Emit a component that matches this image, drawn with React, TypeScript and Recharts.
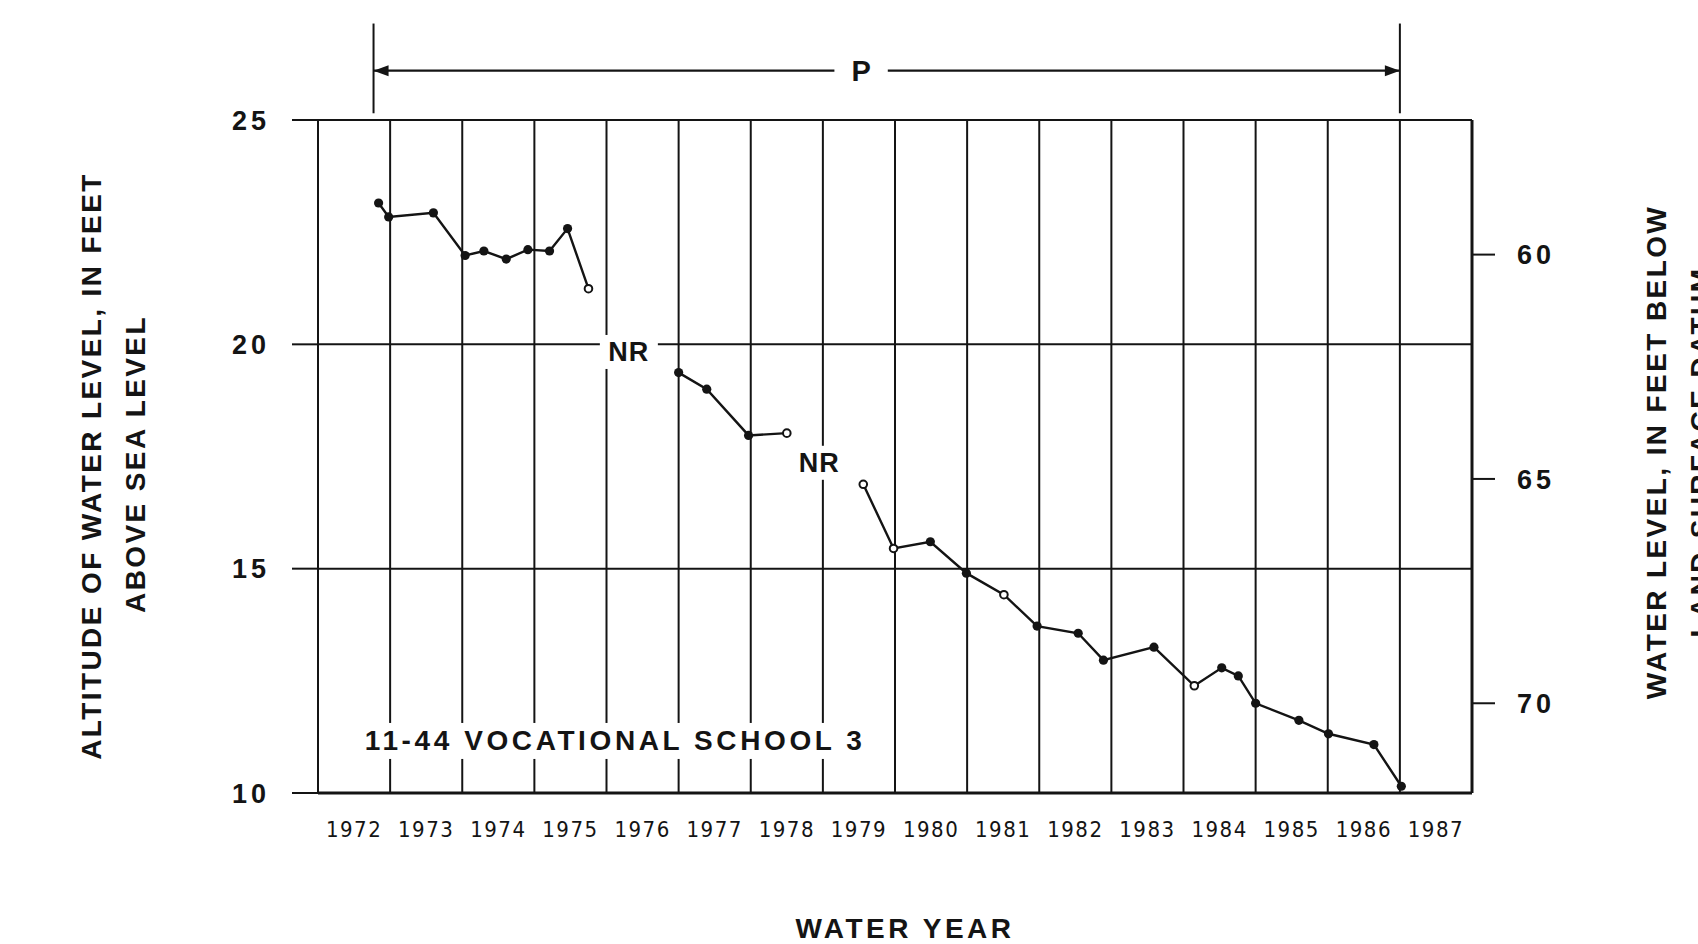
import React from 'react';
import { LineChart, Line, XAxis, YAxis, ReferenceLine, ReferenceDot } from 'recharts';

// water years shown under the axis, each one centred in its own column
const years = [1972, 1973, 1974, 1975, 1976, 1977, 1978, 1979, 1980, 1981, 1982, 1983, 1984, 1985, 1986, 1987];
const altitudeTicks = [10, 15, 20, 25];
const depthTicks = [60, 65, 70];
const altitudeDomain = [10, 25];
const landSurfaceAltitude = 82; // depth below land surface = 82 - altitude

// measured water levels, altitude in feet; open = hollow symbol
const segment1 = [
  { year: 1972.34, level: 23.15 },
  { year: 1972.48, level: 22.84 },
  { year: 1973.1, level: 22.93 },
  { year: 1973.54, level: 21.98 },
  { year: 1973.8, level: 22.08 },
  { year: 1974.11, level: 21.9 },
  { year: 1974.41, level: 22.11 },
  { year: 1974.71, level: 22.08 },
  { year: 1974.96, level: 22.58 },
  { year: 1975.25, level: 21.24, open: true },
];

const segment2 = [
  { year: 1976.5, level: 19.37 },
  { year: 1976.89, level: 19.0 },
  { year: 1977.47, level: 17.97 },
  { year: 1978.0, level: 18.02, open: true },
];

const segment3 = [
  { year: 1979.06, level: 16.88, open: true },
  { year: 1979.48, level: 15.45, open: true },
  { year: 1979.99, level: 15.6 },
  { year: 1980.49, level: 14.9 },
  { year: 1981.01, level: 14.42, open: true },
  { year: 1981.47, level: 13.72 },
  { year: 1982.04, level: 13.56 },
  { year: 1982.39, level: 12.96 },
  { year: 1983.09, level: 13.25 },
  { year: 1983.65, level: 12.39, open: true },
  { year: 1984.03, level: 12.79 },
  { year: 1984.26, level: 12.61 },
  { year: 1984.5, level: 12.0 },
  { year: 1985.1, level: 11.62 },
  { year: 1985.51, level: 11.32 },
  { year: 1986.14, level: 11.08 },
  { year: 1986.52, level: 10.15 },
];

// "no record" gaps
const noRecordNotes = [
  { year: 1975.81, level: 19.83 },
  { year: 1978.45, level: 17.36 },
];

// period-of-record bracket above the graph
const periodStart = 1972.27;
const periodEnd = 1986.5;
const periodLevel = 26.1;
const periodGap = [1978.66, 1979.4];

const gridYears = [...years.map((y) => y - 0.5), years[years.length - 1] + 0.5];
const depthDomain = [landSurfaceAltitude - altitudeDomain[1], landSurfaceAltitude - altitudeDomain[0]];

const INK = '#141414';
const SANS = '"Liberation Sans", Arial, Helvetica, sans-serif';

const renderDot = (props: any) => {
  const { cx, cy, payload, index } = props;
  if (cx == null || cy == null) return null;
  if (payload.open) {
    return <circle key={`o-${index}-${cx}`} cx={cx} cy={cy} r={3.8} fill="#fff" stroke={INK} strokeWidth={2} />;
  }
  return <circle key={`f-${index}-${cx}`} cx={cx} cy={cy} r={4.6} fill={INK} />;
};

const arrowShape = (head: 'start' | 'end') => (p: any) => {
  const { x1, y1, x2, y2 } = p;
  const hx = head === 'start' ? x1 : x2;
  const hy = head === 'start' ? y1 : y2;
  const dir = head === 'start' ? 1 : -1;
  return (
    <g>
      <line x1={x1} y1={y1} x2={x2} y2={y2} stroke={INK} strokeWidth={2.4} />
      <polygon points={`${hx},${hy} ${hx + dir * 15},${hy - 5.5} ${hx + dir * 15},${hy + 5.5}`} fill={INK} />
    </g>
  );
};

const YearTick = (props: any) => {
  const { x, y, payload } = props;
  return (
    <text x={x} y={y} dy={16} textAnchor="middle" fill={INK}
      style={{ fontFamily: '"DejaVu Sans Condensed", "Liberation Sans Narrow", sans-serif', fontSize: 22, letterSpacing: 1.5 }}>
      {payload.value}
    </text>
  );
};

const App: React.FC = () => {
  return (
    <div style={{ position: 'absolute', left: 0, top: 0, width: 1698, height: 944, background: '#fff', overflow: 'hidden' }}>
      <LineChart width={1698} height={944} margin={{ top: 120, right: 0, bottom: 0, left: 0 }}>
        <XAxis
          xAxisId={0}
          type="number"
          dataKey="year"
          domain={[gridYears[0], gridYears[gridYears.length - 1]]}
          ticks={years}
          allowDataOverflow
          height={151}
          tickLine={false}
          tickMargin={22}
          axisLine={{ stroke: INK, strokeWidth: 3 }}
          tick={<YearTick />}
        />
        <YAxis
          yAxisId="left"
          type="number"
          domain={altitudeDomain}
          ticks={altitudeTicks}
          allowDataOverflow
          width={318}
          tickSize={26}
          tickMargin={22}
          axisLine={{ stroke: INK, strokeWidth: 2 }}
          tickLine={{ stroke: INK, strokeWidth: 2 }}
          tick={{ fill: INK, fontFamily: SANS, fontWeight: 700, fontSize: 27, letterSpacing: 4 }}
        />
        <YAxis
          yAxisId="right"
          orientation="right"
          type="number"
          domain={depthDomain}
          reversed
          ticks={depthTicks}
          allowDataOverflow
          width={226}
          tickSize={23}
          tickMargin={22}
          axisLine={{ stroke: INK, strokeWidth: 3 }}
          tickLine={{ stroke: INK, strokeWidth: 2 }}
          tick={{ fill: INK, fontFamily: SANS, fontWeight: 700, fontSize: 27, letterSpacing: 4, textAnchor: 'start' }}
        />

        {gridYears.map((g) => (
          <ReferenceLine key={`gx-${g}`} x={g} yAxisId="left" stroke={INK} strokeWidth={2} />
        ))}
        {altitudeTicks.slice(1).map((t) => (
          <ReferenceLine key={`gy-${t}`} y={t} yAxisId="left" stroke={INK} strokeWidth={2} />
        ))}

        <ReferenceLine yAxisId="left" ifOverflow="visible"
          segment={[{ x: periodStart, y: 25.15 }, { x: periodStart, y: 27.15 }]} stroke={INK} strokeWidth={2} />
        <ReferenceLine yAxisId="left" ifOverflow="visible"
          segment={[{ x: periodEnd, y: 25.15 }, { x: periodEnd, y: 27.15 }]} stroke={INK} strokeWidth={2} />
        <ReferenceLine yAxisId="left" ifOverflow="visible"
          segment={[{ x: periodStart, y: periodLevel }, { x: periodGap[0], y: periodLevel }]} shape={arrowShape('start')} />
        <ReferenceLine yAxisId="left" ifOverflow="visible"
          segment={[{ x: periodGap[1], y: periodLevel }, { x: periodEnd, y: periodLevel }]} shape={arrowShape('end')} />
        <ReferenceDot yAxisId="left" x={(periodGap[0] + periodGap[1]) / 2} y={periodLevel} ifOverflow="visible"
          shape={(p: any) => (
            <text x={p.cx} y={p.cy} textAnchor="middle" dominantBaseline="central" fill={INK}
              style={{ fontFamily: SANS, fontWeight: 700, fontSize: 29 }}>P</text>
          )} />

        {noRecordNotes.map((n, i) => (
          <ReferenceDot key={`nr-${i}`} yAxisId="left" x={n.year} y={n.level}
            shape={(p: any) => (
              <g>
                <rect x={p.cx - 29} y={p.cy - 17} width={58} height={34} fill="#fff" />
                <text x={p.cx} y={p.cy} textAnchor="middle" dominantBaseline="central" fill={INK}
                  style={{ fontFamily: SANS, fontWeight: 700, fontSize: 27, letterSpacing: 1 }}>NR</text>
              </g>
            )} />
        ))}

        <ReferenceDot yAxisId="left" x={1975.62} y={11.16}
          shape={(p: any) => (
            <g>
              <rect x={p.cx - 266} y={p.cy - 18} width={532} height={36} fill="#fff" />
              <text x={p.cx} y={p.cy} textAnchor="middle" dominantBaseline="central" fill={INK}
                style={{ fontFamily: SANS, fontWeight: 700, fontSize: 28, letterSpacing: 3.6 }}>11-44 VOCATIONAL SCHOOL 3</text>
            </g>
          )} />

        <Line data={segment1} dataKey="level" yAxisId="left" stroke={INK} strokeWidth={2.4} dot={renderDot} isAnimationActive={false} />
        <Line data={segment2} dataKey="level" yAxisId="left" stroke={INK} strokeWidth={2.4} dot={renderDot} isAnimationActive={false} />
        <Line data={segment3} dataKey="level" yAxisId="left" stroke={INK} strokeWidth={2.4} dot={renderDot} isAnimationActive={false} />
      </LineChart>

      <div style={titleStyle(92, 466)}>ALTITUDE OF WATER LEVEL, IN FEET</div>
      <div style={titleStyle(136, 464)}>ABOVE SEA LEVEL</div>
      <div style={titleStyle(1657, 452)}>WATER LEVEL, IN FEET BELOW</div>
      <div style={titleStyle(1701, 452)}>LAND-SURFACE DATUM</div>
      <div style={{ position: 'absolute', left: 905, top: 929, transform: 'translate(-50%, -50%)', whiteSpace: 'nowrap',
        fontFamily: SANS, fontWeight: 700, fontSize: 28, letterSpacing: 3.5, color: INK }}>WATER YEAR</div>
    </div>
  );
};

function titleStyle(cx: number, cy: number): React.CSSProperties {
  return {
    position: 'absolute',
    left: cx,
    top: cy,
    transform: 'translate(-50%, -50%) rotate(-90deg)',
    whiteSpace: 'nowrap',
    fontFamily: SANS,
    fontWeight: 700,
    fontSize: 28,
    letterSpacing: 2.4,
    color: INK,
    lineHeight: 1,
  };
}

export default App;
